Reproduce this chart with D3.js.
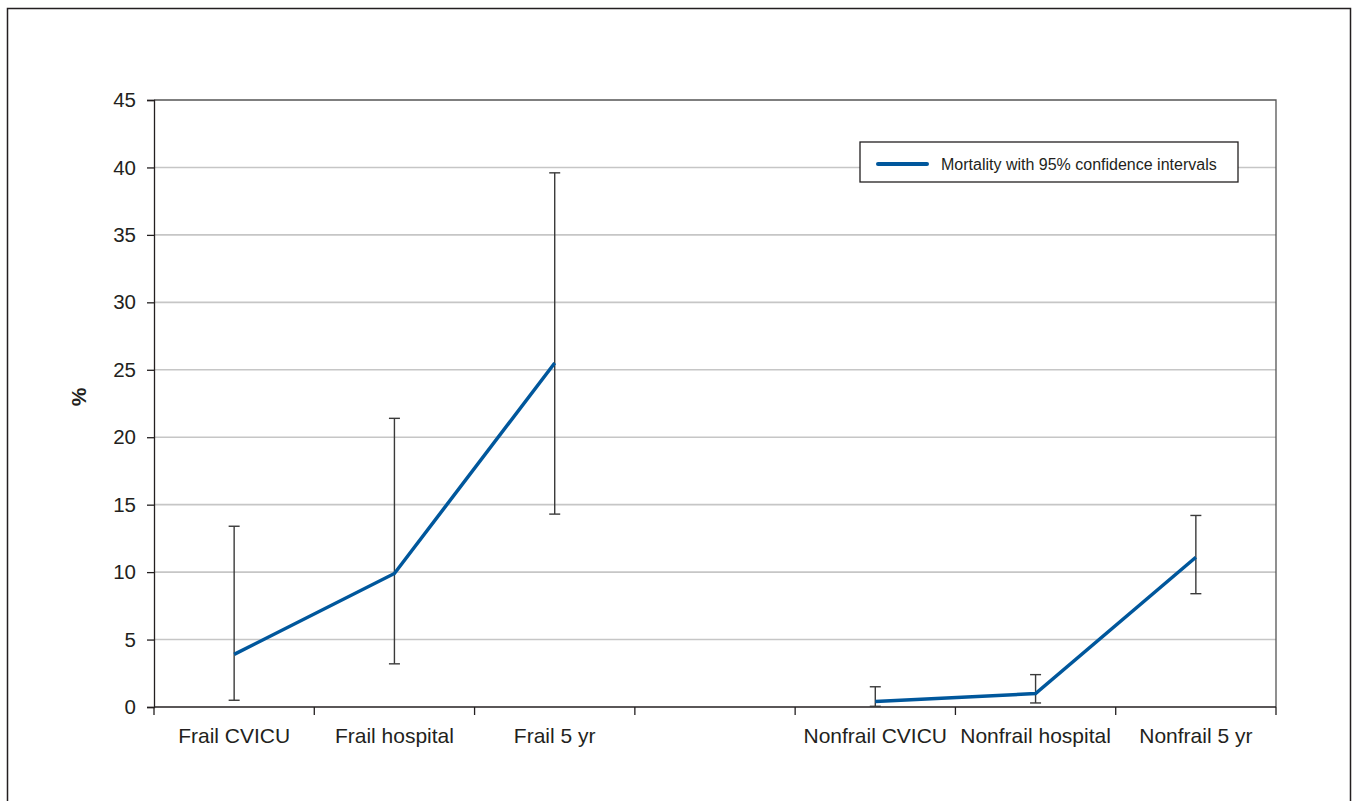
<!DOCTYPE html>
<html lang="en">
    <head>
        <meta charset="utf-8">
        <title>Mortality with 95% confidence intervals</title>
        <script src="https://cdn.jsdelivr.net/npm/d3@7"></script>
        <style>
            body { margin: 0; background: #fff; }
            svg text { font-family: "Liberation Sans", Arial, Helvetica, sans-serif; fill: #231f20; }
        </style>
    </head>
    <body>
        <div id="svg-container"></div>
        <script>
            // Categories (the empty slot separates the two groups)
            const categories = ["Frail CVICU", "Frail hospital", "Frail 5 yr", "",
                                "Nonfrail CVICU", "Nonfrail hospital", "Nonfrail 5 yr"];
            const frailLabels = ["Frail CVICU", "Frail hospital", "Frail 5 yr"];
            const nonfrailLabels = ["Nonfrail CVICU", "Nonfrail hospital", "Nonfrail 5 yr"];

            // Mortality (%) and 95% CI
            const frailMortality = [3.9, 9.9, 25.5];
            const frailLower = [0.5, 3.2, 14.3];
            const frailUpper = [13.4, 21.4, 39.6];

            const nonfrailMortality = [0.4, 1.0, 11.1];
            const nonfrailLower = [0.05, 0.3, 8.4];
            const nonfrailUpper = [1.5, 2.4, 14.2];

            const yTicks = [0, 5, 10, 15, 20, 25, 30, 35, 40, 45];

            const width = 1357,
                  height = 801,
                  plotLeft = 154,
                  plotRight = 1276,
                  plotTop = 100,
                  plotBottom = 707,
                  blue = "#00579c";

            const svg = d3.select("#svg-container")
                .append("svg")
                .attr("width", width)
                .attr("height", height);

            // outer frame (runs off the bottom)
            svg.append("rect")
                .attr("x", 7.5).attr("y", 8.5)
                .attr("width", 1343).attr("height", 820)
                .attr("fill", "none")
                .attr("stroke", "#231f20")
                .attr("stroke-width", 1.5);

            const xScale = d3.scaleBand()
                .domain(categories)
                .range([plotLeft, plotRight])
                .padding(0);

            const yScale = d3.scaleLinear()
                .domain([0, 45])
                .range([plotBottom, plotTop]);

            // gridlines
            svg.append("g")
                .selectAll("line")
                .data(yTicks.filter(d => d > 0 && d < 45))
                .enter()
                .append("line")
                .attr("x1", plotLeft).attr("x2", plotRight)
                .attr("y1", d => yScale(d)).attr("y2", d => yScale(d))
                .attr("stroke", "#c6c6c6")
                .attr("stroke-width", 1.6);

            // plot frame top and right
            svg.append("path")
                .attr("d", `M${plotLeft},${yScale(45)}H${plotRight}V${plotBottom}`)
                .attr("fill", "none")
                .attr("stroke", "#555")
                .attr("stroke-width", 1.3);

            // y axis
            const yAxis = svg.append("g")
                .attr("transform", "translate(" + plotLeft + ",0)")
                .call(d3.axisLeft(yScale).tickValues(yTicks).tickSize(7).tickPadding(11));
            yAxis.select(".domain").attr("stroke", "#231f20").attr("stroke-width", 1.3);
            yAxis.selectAll(".tick line").attr("stroke", "#231f20").attr("stroke-width", 1.3);
            yAxis.selectAll(".tick text")
                .attr("font-size", 20.5)
                .attr("font-family", "'Liberation Sans', Arial, sans-serif")
                .attr("fill", "#231f20");

            // x axis: boundary ticks between categories, labels at centres
            const boundaries = categories.map(c => xScale(c)).concat([plotRight]);
            const xAxis = svg.append("g");
            xAxis.append("line")
                .attr("x1", plotLeft).attr("x2", plotRight)
                .attr("y1", plotBottom).attr("y2", plotBottom)
                .attr("stroke", "#231f20").attr("stroke-width", 1.3);
            xAxis.selectAll(".bt")
                .data(boundaries)
                .enter()
                .append("line")
                .attr("class", "bt")
                .attr("x1", d => d).attr("x2", d => d)
                .attr("y1", plotBottom).attr("y2", plotBottom + 8)
                .attr("stroke", "#231f20").attr("stroke-width", 1.3);
            xAxis.selectAll(".lbl")
                .data(categories.filter(c => c !== ""))
                .enter()
                .append("text")
                .attr("class", "lbl")
                .attr("x", d => xScale(d) + xScale.bandwidth() / 2)
                .attr("y", 743)
                .attr("text-anchor", "middle")
                .attr("font-size", 21)
                .text(d => d);

            // y label
            svg.append("text")
                .attr("transform", "translate(86,397) rotate(-90)")
                .attr("text-anchor", "middle")
                .attr("font-size", 21)
                .attr("font-weight", "bold")
                .text("%");

            const groups = [
                { labels: frailLabels, mid: frailMortality, lo: frailLower, hi: frailUpper },
                { labels: nonfrailLabels, mid: nonfrailMortality, lo: nonfrailLower, hi: nonfrailUpper }
            ];

            const cx = c => xScale(c) + xScale.bandwidth() / 2;
            const cap = 5.5;

            groups.forEach(g => {
                const pts = g.labels.map((c, i) => ({ c: c, m: g.mid[i], lo: g.lo[i], hi: g.hi[i] }));

                const bars = svg.append("g");
                bars.selectAll(".ci")
                    .data(pts).enter()
                    .append("line")
                    .attr("x1", d => cx(d.c)).attr("x2", d => cx(d.c))
                    .attr("y1", d => yScale(d.lo)).attr("y2", d => yScale(d.hi))
                    .attr("stroke", "#3a3a3a").attr("stroke-width", 1.4);
                bars.selectAll(".capTop")
                    .data(pts).enter()
                    .append("line")
                    .attr("x1", d => cx(d.c) - cap).attr("x2", d => cx(d.c) + cap)
                    .attr("y1", d => yScale(d.hi)).attr("y2", d => yScale(d.hi))
                    .attr("stroke", "#3a3a3a").attr("stroke-width", 1.4);
                bars.selectAll(".capBot")
                    .data(pts).enter()
                    .append("line")
                    .attr("x1", d => cx(d.c) - cap).attr("x2", d => cx(d.c) + cap)
                    .attr("y1", d => yScale(d.lo)).attr("y2", d => yScale(d.lo))
                    .attr("stroke", "#3a3a3a").attr("stroke-width", 1.4);

                const line = d3.line()
                    .x(d => cx(d.c))
                    .y(d => yScale(d.m));

                svg.append("path")
                    .datum(pts)
                    .attr("d", line)
                    .attr("fill", "none")
                    .attr("stroke", blue)
                    .attr("stroke-width", 3.5);
            });

            // legend
            const legend = svg.append("g").attr("transform", "translate(860,142)");
            legend.append("rect")
                .attr("width", 378).attr("height", 40)
                .attr("fill", "#fff")
                .attr("stroke", "#231f20").attr("stroke-width", 1.3);
            legend.append("line")
                .attr("x1", 18).attr("x2", 67)
                .attr("y1", 22).attr("y2", 22)
                .attr("stroke", blue).attr("stroke-width", 4)
                .attr("stroke-linecap", "round");
            legend.append("text")
                .attr("x", 81).attr("y", 28)
                .attr("font-size", 16)
                .text("Mortality with 95% confidence intervals");
        </script>
    </body>
</html>
